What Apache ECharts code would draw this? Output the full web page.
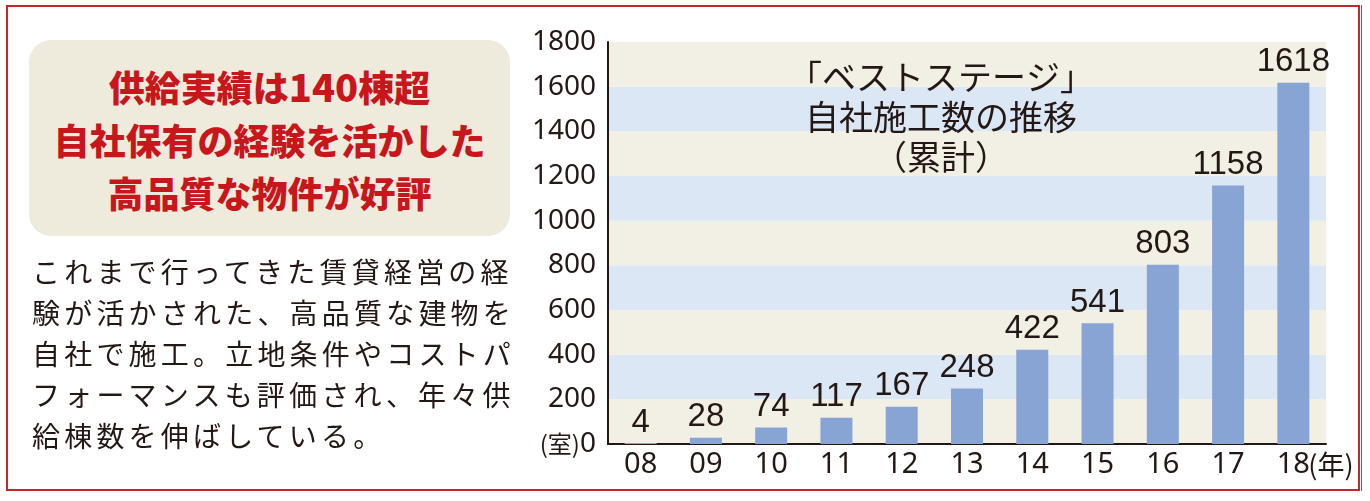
<!DOCTYPE html>
<html><head><meta charset="utf-8">
<script src="https://cdn.jsdelivr.net/npm/echarts@6/dist/echarts.min.js"></script>
<style>
html,body{margin:0;padding:0;background:#fff;}
#wrap{position:relative;width:1370px;height:501px;overflow:hidden;}
#chart{position:absolute;left:0;top:0;width:1370px;height:501px;}
#frame{position:absolute;left:6px;top:5px;width:1350px;height:482px;border:2px solid #C1272D;pointer-events:none;}
#frame2{position:absolute;left:1361px;top:5px;width:1px;height:486px;background:#B34A50;}
#head{position:absolute;left:29px;top:40px;width:481px;height:196px;background:#EEEADC;border-radius:22px;
 font-family:"Noto Sans CJK JP";font-weight:900;color:#C8161D;font-size:36px;line-height:53px;text-align:center;
 box-sizing:border-box;padding-top:19px;}
#head .n{font-size:38px;}
#body{position:absolute;left:32px;top:251px;font-family:"Noto Sans CJK JP";color:#231815;font-size:28px;
 line-height:41px;letter-spacing:4.2px;white-space:nowrap;}
</style></head>
<body><div id="wrap">
<div id="chart"></div>
<div id="frame"></div><div id="frame2"></div>
<div id="head">供給実績は<span class="n">140</span>棟超<br>自社保有の経験を活かした<br>高品質な物件が好評</div>
<div id="body">これまで行ってきた賃貸経営の経<br>験が活かされた、高品質な建物を<br>自社で施工。立地条件やコストパ<br>フォーマンスも評価され、年々供<br>給棟数を伸ばしている。</div>
</div>
<script>
const years = ['08','09','10','11','12','13','14','15','16','17','18'];
const values = [4, 28, 74, 117, 167, 248, 422, 541, 803, 1158, 1618];
const titleText = '「ベストステージ」\n自社施工数の推移\n（累計）';
const yUnit = '(室)';
const xUnit = '(年)';

const chart = echarts.init(document.getElementById('chart'));
chart.setOption({
  backgroundColor: '#fff',
  animation: false,
  title: {
    text: titleText, left: 936, top: 52, textAlign: 'center',
    textStyle: {fontFamily: 'Noto Sans CJK JP', fontWeight: 'normal', fontSize: 34, lineHeight: 40, color: '#231815'}
  },
  grid: {left: 608, right: 44, top: 42, bottom: 57},
  xAxis: {
    type: 'category', data: years,
    axisLine: {lineStyle: {color: '#231815', width: 2}},
    axisTick: {show: false},
    axisLabel: {
      interval: 0, margin: 6, color: '#231815', fontFamily: 'Noto Sans', fontSize: 29,
      formatter: (v, i) => i === years.length - 1 ? '{p|}' + v + '{u|' + xUnit + '}' : v,
      rich: {p: {width: 42}, u: {fontFamily: 'Noto Sans CJK JP', fontSize: 27, color: '#231815', width: 42}}
    }
  },
  yAxis: {
    type: 'value', min: 0, max: 1800, interval: 200,
    axisLine: {show: true, lineStyle: {color: '#231815', width: 2}},
    axisTick: {show: false},
    splitLine: {show: false},
    splitArea: {show: true, areaStyle: {color: ['#F2EFE4', '#DCE7F5']}},
    axisLabel: {
      margin: 12, color: '#231815', fontFamily: 'Noto Sans', fontSize: 28,
      formatter: v => v === 0 ? '{u|' + yUnit + '}0' : String(v),
      rich: {u: {fontFamily: 'Noto Sans CJK JP', fontSize: 24, color: '#231815'}}
    }
  },
  series: [{
    type: 'bar', data: values, barWidth: 32,
    itemStyle: {color: '#88A4D4'},
    label: {show: true, position: 'top', distance: 4, color: '#231815',
      fontFamily: 'Liberation Sans', fontSize: 33}
  }]
});
</script>
</body></html>
